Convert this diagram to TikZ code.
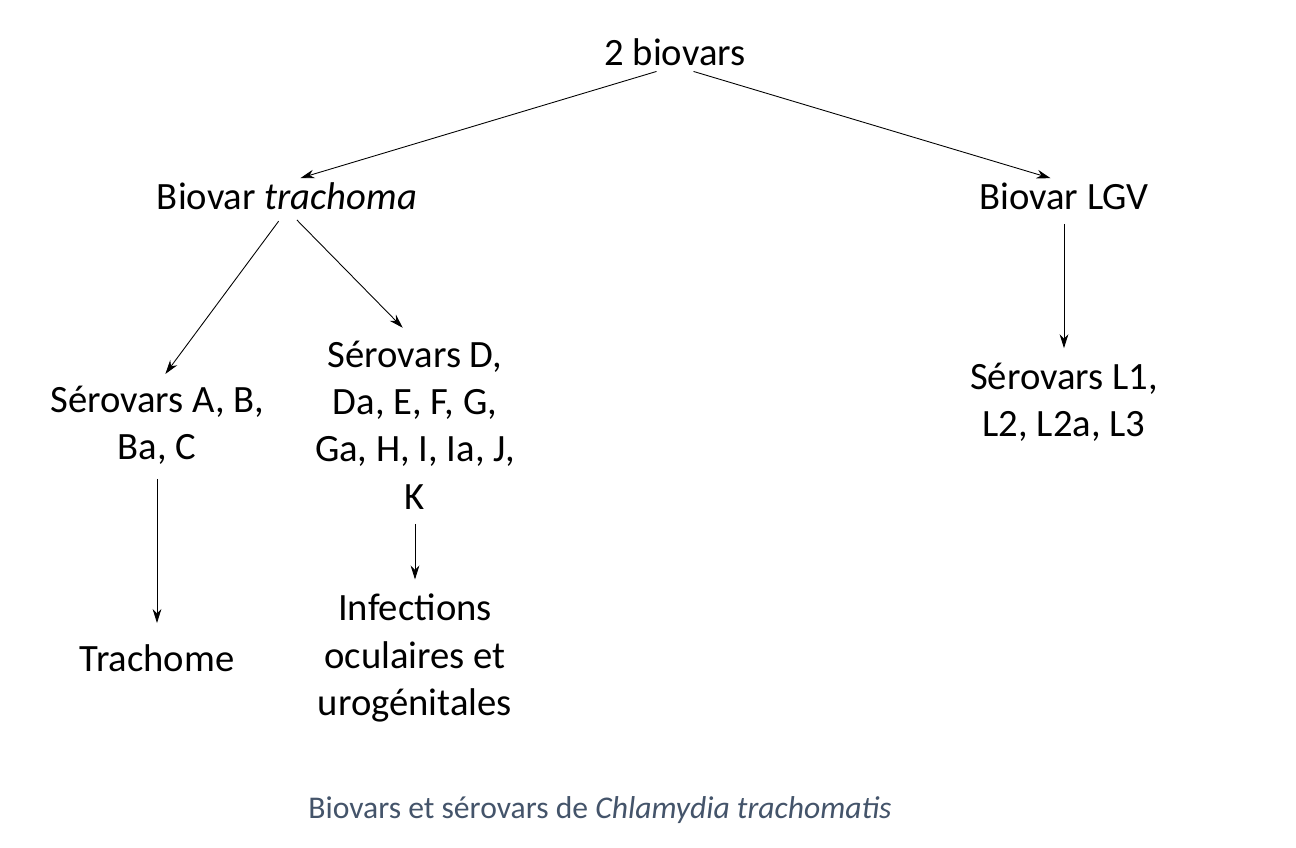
\documentclass[tikz,border=0pt]{standalone}
\usepackage{fontspec}
\setmainfont{Carlito}
\usetikzlibrary{arrows.meta}
\tikzset{
  label/.style={inner sep=0pt, align=center, font=\fontsize{22}{27}\selectfont},
  caption/.style={inner sep=0pt, font=\fontsize{18}{22}\selectfont, text=capcol},
  arrow/.style={-{Stealth[length=8pt,width=5pt]}, line width=0.5pt}
}
\definecolor{capcol}{RGB}{68,84,106}
\begin{document}
\begin{tikzpicture}[x=0.02cm,y=-0.02cm]
  \useasboundingbox (0,0) rectangle (1296,848);

  \node (top) [label] at (675,52) {2 biovars};
  \node (trach) [label] at (287,196) {Biovar \textit{trachoma}};
  \node (lgv) [label] at (1064,196) {Biovar LGV};
  \node (abc) [label] at (157,425) {Sérovars A, B,\\Ba, C};
  \node (dk) [label] at (415,425) {Sérovars D,\\Da, E, F, G,\\Ga, H, I, Ia, J,\\K};
  \node (lser) [label] at (1064,402) {Sérovars L1,\\L2, L2a, L3};
  \node (trachome) [label] at (157,658) {Trachome};
  \node (infect) [label] at (415,658) {Infections\\oculaires et\\urogénitales};
  \node (cap) [caption] at (600,810) {Biovars et sérovars de \textit{Chlamydia trachomatis}};

  \draw [arrow, shorten <=11pt, shorten >=8pt] (top.south) -- (trach.north);
  \draw [arrow, shorten <=11pt, shorten >=8pt] (top.south) -- (lgv.north);
  \draw [arrow, shorten <=8pt, shorten >=8pt] (trach.south) -- (abc.north);
  \draw [arrow, shorten <=8pt, shorten >=10pt] (trach.south) -- (dk.north);
  \draw [arrow, shorten <=8pt, shorten >=8pt] (lgv.south) -- (lser.north);
  \draw [arrow, shorten <=8pt, shorten >=12pt] (abc.south) -- (trachome.north);
  \draw [arrow, shorten <=8pt, shorten >=8pt] (dk.south) -- (infect.north);
\end{tikzpicture}
\end{document}
